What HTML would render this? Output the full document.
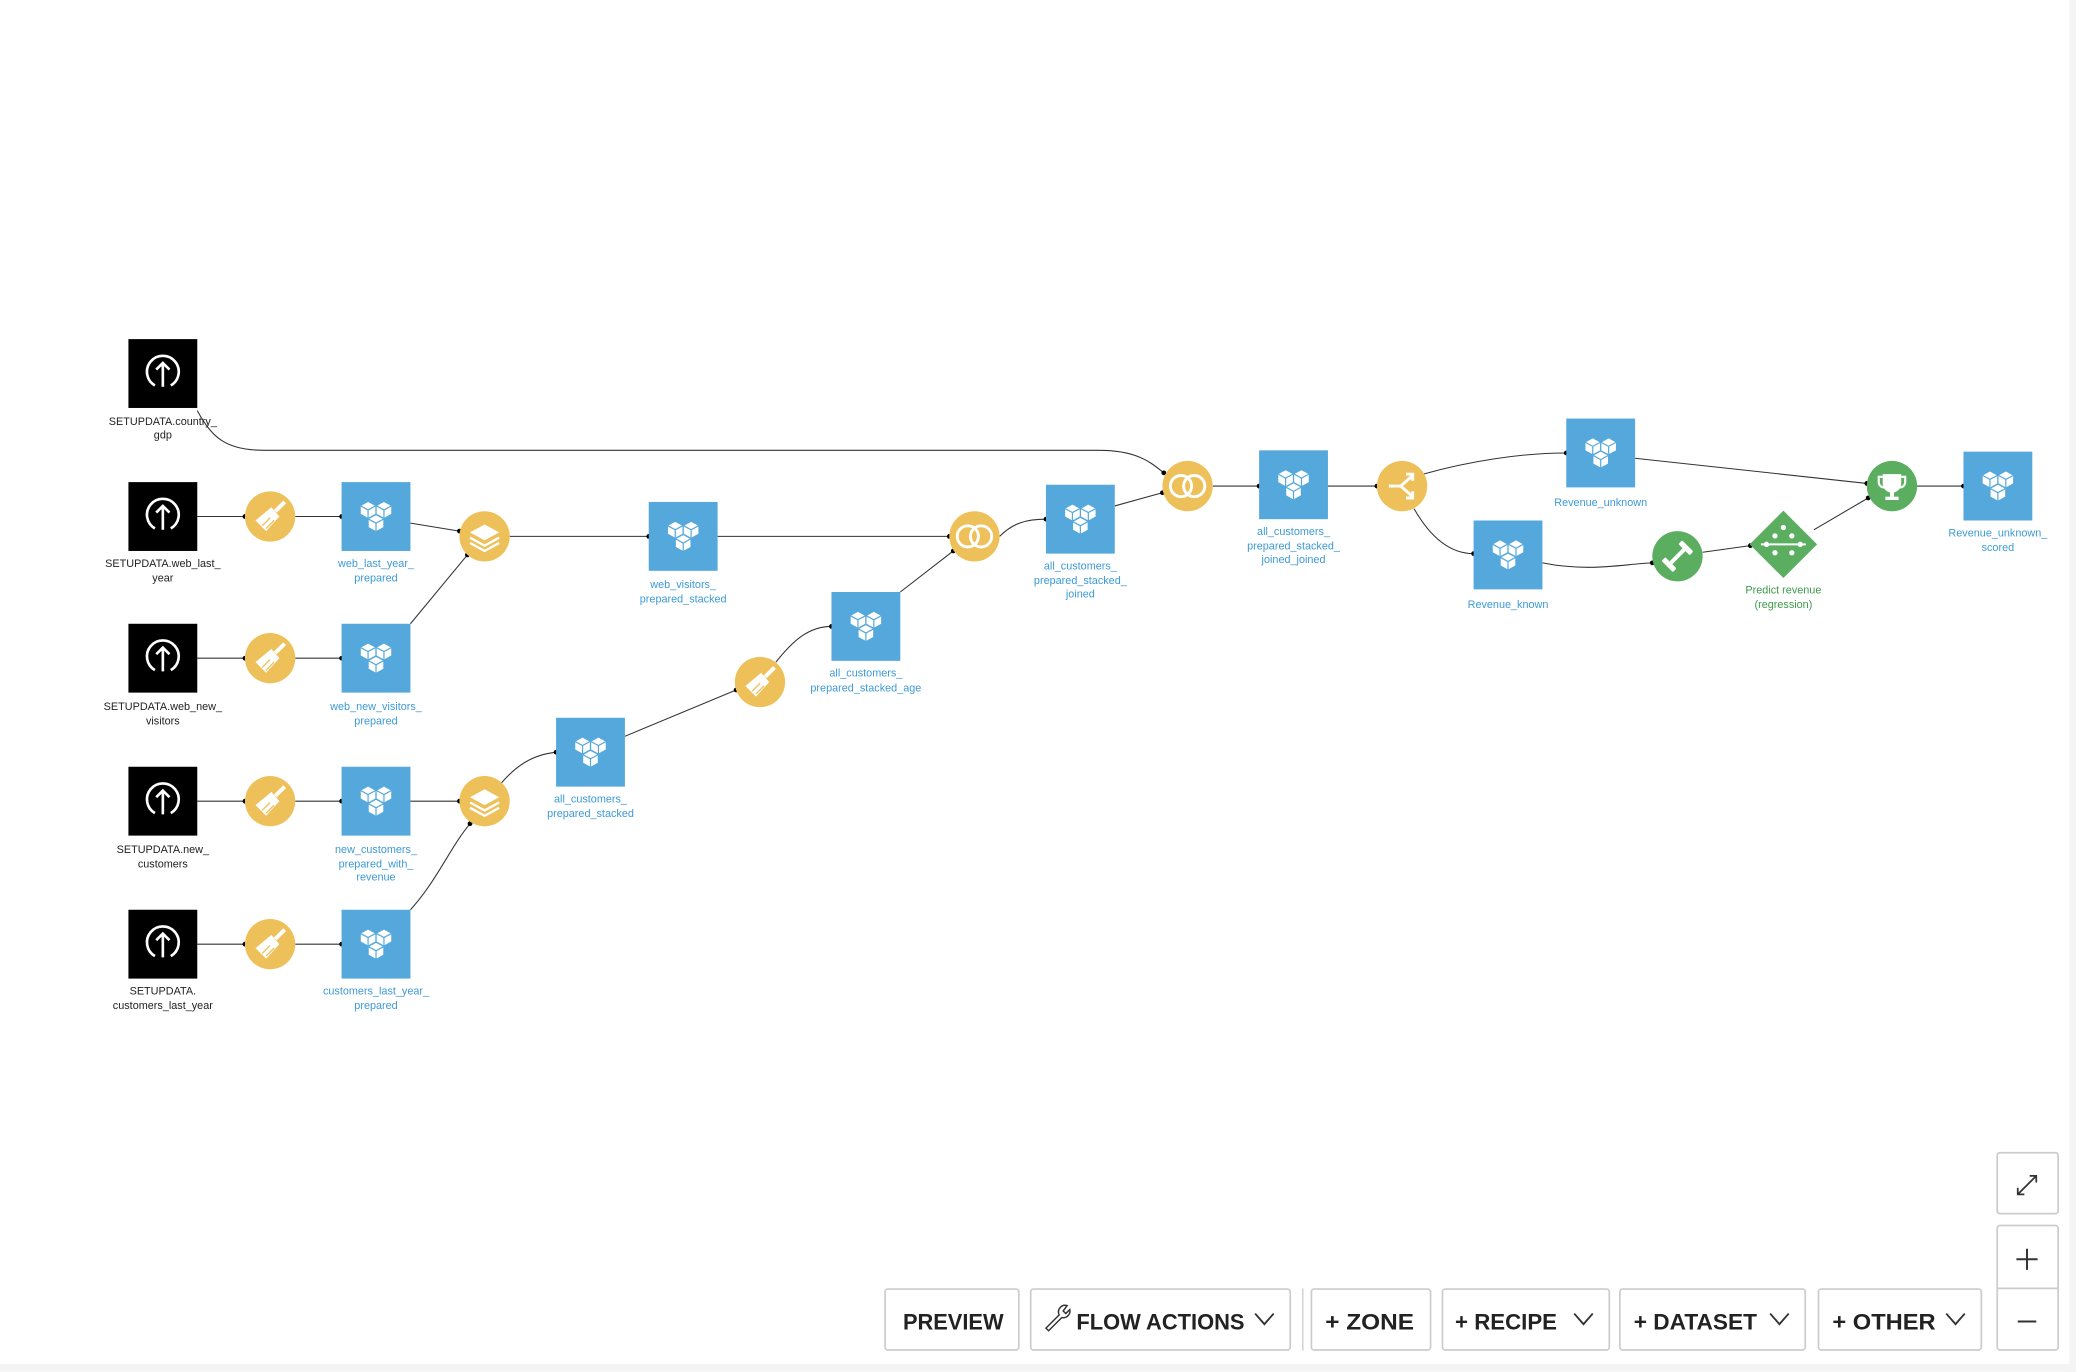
<!DOCTYPE html>
<html><head><meta charset="utf-8"><style>
html,body{margin:0;padding:0;background:#fff;width:2076px;height:1372px;overflow:hidden}
svg{display:block}
.lb{font-family:"Liberation Sans",sans-serif;font-size:8.2px;text-anchor:middle}
.k{fill:#222}.b{fill:#3d9ad6}.g{fill:#3e9a4a}
.e{fill:none;stroke:#333;stroke-width:0.8}
.bt{font-family:"Liberation Sans Narrow","Liberation Sans",sans-serif;font-weight:bold;font-size:17px;fill:#222}
.btn{fill:#fff;stroke:#ccc;stroke-width:1.3}
</style></head><body>
<svg width="2076" height="1372" viewBox="0 0 1568 1036" xmlns="http://www.w3.org/2000/svg">
<defs>
<g id="src"><rect x="-26" y="-26" width="52" height="52" fill="#000"/>
<path d="M-6,9 A12,12 0 1 1 6,9" fill="none" stroke="#fff" stroke-width="2"/>
<path d="M0,10 V-8 M-5,-3 L0,-8 L5,-3" fill="none" stroke="#fff" stroke-width="2"/></g>
<g id="cb"><polygon points="0,-6 5.5,-3 5.5,3 0,6 -5.5,3 -5.5,-3" fill="#fff"/>
<path d="M-5.5,-3 L0,0 L5.5,-3 M0,0 V6" stroke="#55a8dc" stroke-width="0.9" fill="none"/></g>
<g id="ds"><rect x="-26" y="-26" width="52" height="52" fill="#55a8dc"/>
<use href="#cb" x="-6" y="-5"/><use href="#cb" x="6" y="-5"/><use href="#cb" x="0" y="5"/></g>
<g id="br"><circle r="19" fill="#eec05a"/>
<path d="M4,-4 L11,-11" stroke="#fff" stroke-width="3"/>
<path d="M-11,3 L1,-7 L7,0 L-3,11 Z" fill="#fff"/>
<path d="M-6,7 L0,1 M-3,9 L3,3" stroke="#eec05a" stroke-width="1"/></g>
<g id="st"><circle r="19" fill="#eec05a"/>
<path d="M-11,-3 L0,-9 L11,-3 L0,3 Z" fill="#fff"/>
<path d="M-11,1 L0,7 L11,1 M-11,5 L0,11 L11,5" fill="none" stroke="#fff" stroke-width="1.8"/></g>
<g id="jn"><circle r="19" fill="#eec05a"/>
<circle cx="-5" r="8" fill="none" stroke="#fff" stroke-width="2.2"/><circle cx="5" r="8" fill="none" stroke="#fff" stroke-width="2.2"/></g>
<g id="dot"><circle r="1.8" fill="#000"/></g>
</defs>

<path class="e" d="M149,310 C160,330 170,340 200,340 L830,340 C860,340 870,350 879,357"/>
<g class="e">
<path d="M149,390H185M223,390H258M149,497H185M223,497H258M149,605H185M223,605H258M149,713H185M223,713H258"/>
<path d="M310,395 L347,401"/><path d="M310,471 L353,419"/>
<path d="M385,405 H490"/><path d="M542,405 H717"/>
<path d="M310,605 H347"/><path d="M310,687 C330,665 340,640 355,622"/>
<path d="M378,592 C390,578 402,570 420,568"/>
<path d="M472,556 L556,521"/>
<path d="M586,500 C598,485 610,473 628,473"/>
<path d="M680,447 L720,416"/>
<path d="M755,405 C765,395 775,392 790,392"/>
<path d="M842,382 L878,372"/>
<path d="M916,367 H951"/><path d="M1003,367 H1040"/>
<path d="M1075,358 C1110,348 1150,342 1183,342"/>
<path d="M1068,384 C1080,405 1095,418 1113,418"/>
<path d="M1165,425 C1200,432 1225,426 1248,425"/>
<path d="M1286,417 L1322,412"/>
<path d="M1370,400 L1411,376"/>
<path d="M1235,346 L1410,365"/>
<path d="M1448,367 H1483"/>
</g>
<g>
<use href="#dot" x="879" y="357"/>
<use href="#dot" x="185" y="390"/><use href="#dot" x="258" y="390"/>
<use href="#dot" x="185" y="497"/><use href="#dot" x="258" y="497"/>
<use href="#dot" x="185" y="605"/><use href="#dot" x="258" y="605"/>
<use href="#dot" x="185" y="713"/><use href="#dot" x="258" y="713"/>
<use href="#dot" x="347" y="401"/><use href="#dot" x="353" y="419"/>
<use href="#dot" x="490" y="405"/><use href="#dot" x="717" y="405"/>
<use href="#dot" x="347" y="605"/><use href="#dot" x="355" y="622"/>
<use href="#dot" x="420" y="568"/><use href="#dot" x="556" y="521"/>
<use href="#dot" x="628" y="473"/><use href="#dot" x="720" y="416"/>
<use href="#dot" x="790" y="392"/><use href="#dot" x="878" y="372"/>
<use href="#dot" x="951" y="367"/><use href="#dot" x="1040" y="367"/>
<use href="#dot" x="1183" y="342"/><use href="#dot" x="1113" y="418"/>
<use href="#dot" x="1248" y="425"/><use href="#dot" x="1322" y="412"/>
<use href="#dot" x="1411" y="376"/><use href="#dot" x="1410" y="365"/>
<use href="#dot" x="1483" y="367"/>
</g>

<use href="#src" x="123" y="282"/><use href="#src" x="123" y="390"/><use href="#src" x="123" y="497"/><use href="#src" x="123" y="605"/><use href="#src" x="123" y="713"/>
<text class="lb k" x="123" y="321">SETUPDATA.country_</text><text class="lb k" x="123" y="331">gdp</text>
<text class="lb k" x="123" y="428">SETUPDATA.web_last_</text><text class="lb k" x="123" y="439">year</text>
<text class="lb k" x="123" y="536">SETUPDATA.web_new_</text><text class="lb k" x="123" y="547">visitors</text>
<text class="lb k" x="123" y="644">SETUPDATA.new_</text><text class="lb k" x="123" y="655">customers</text>
<text class="lb k" x="123" y="751">SETUPDATA.</text><text class="lb k" x="123" y="762">customers_last_year</text>

<use href="#br" x="204" y="390"/><use href="#br" x="204" y="497"/><use href="#br" x="204" y="605"/><use href="#br" x="204" y="713"/>

<use href="#ds" x="284" y="390"/><use href="#ds" x="284" y="497"/><use href="#ds" x="284" y="605"/><use href="#ds" x="284" y="713"/>
<text class="lb b" x="284" y="428">web_last_year_</text><text class="lb b" x="284" y="439">prepared</text>
<text class="lb b" x="284" y="536">web_new_visitors_</text><text class="lb b" x="284" y="547">prepared</text>
<text class="lb b" x="284" y="644">new_customers_</text><text class="lb b" x="284" y="655">prepared_with_</text><text class="lb b" x="284" y="665">revenue</text>
<text class="lb b" x="284" y="751">customers_last_year_</text><text class="lb b" x="284" y="762">prepared</text>

<use href="#st" x="366" y="405"/><use href="#st" x="366" y="605"/>

<use href="#ds" x="516" y="405"/>
<text class="lb b" x="516" y="444">web_visitors_</text><text class="lb b" x="516" y="455">prepared_stacked</text>
<use href="#ds" x="446" y="568"/>
<text class="lb b" x="446" y="606">all_customers_</text><text class="lb b" x="446" y="617">prepared_stacked</text>
<use href="#br" x="574" y="515"/>
<use href="#ds" x="654" y="473"/>
<text class="lb b" x="654" y="511">all_customers_</text><text class="lb b" x="654" y="522">prepared_stacked_age</text>
<use href="#jn" x="736" y="405"/>
<use href="#ds" x="816" y="392"/>
<text class="lb b" x="816" y="430">all_customers_</text><text class="lb b" x="816" y="441">prepared_stacked_</text><text class="lb b" x="816" y="451">joined</text>
<use href="#jn" x="897" y="367"/>
<use href="#ds" x="977" y="366"/>
<text class="lb b" x="977" y="404">all_customers_</text><text class="lb b" x="977" y="415">prepared_stacked_</text><text class="lb b" x="977" y="425">joined_joined</text>

<g transform="translate(1059,367)"><circle r="19" fill="#eec05a"/>
<path d="M-10,0 H-1 L8,-8 M-1,0 L8,8 M3,-9 H8 V-4 M3,9 H8 V4" fill="none" stroke="#fff" stroke-width="2.2"/></g>

<use href="#ds" x="1209" y="342"/>
<text class="lb b" x="1209" y="382">Revenue_unknown</text>
<use href="#ds" x="1139" y="419"/>
<text class="lb b" x="1139" y="459">Revenue_known</text>

<g transform="translate(1267,420)"><circle r="19" fill="#5bae5f"/>
<g transform="rotate(-45)" fill="#fff"><rect x="-7" y="-1.5" width="14" height="3"/><rect x="-11" y="-6" width="4" height="12" rx="1"/><rect x="7" y="-6" width="4" height="12" rx="1"/></g></g>

<g transform="translate(1347,411) rotate(45)"><rect x="-18" y="-18" width="36" height="36" fill="#5bae5f"/>
<g fill="#fff"><circle cx="-9" cy="-9" r="2"/><circle cx="0" cy="-9" r="2"/><circle cx="9" cy="-9" r="2"/><circle cx="-9" cy="0" r="2"/><circle cx="9" cy="0" r="2"/><circle cx="0" cy="9" r="2"/><circle cx="-9" cy="9" r="2"/></g>
<path d="M-12,12 L12,-12" stroke="#fff" stroke-width="1.5"/></g>
<text class="lb g" x="1347" y="448">Predict revenue</text><text class="lb g" x="1347" y="459">(regression)</text>

<g transform="translate(1429,367)"><circle r="19" fill="#5bae5f"/>
<path d="M-7,-9 H7 V-2 A7,7 0 0 1 -7,-2 Z" fill="#fff"/>
<path d="M-7,-7 H-10 V-3 A4,4 0 0 0 -6,1 M7,-7 H10 V-3 A4,4 0 0 1 6,1" fill="none" stroke="#fff" stroke-width="1.6"/>
<rect x="-1.5" y="4" width="3" height="4" fill="#fff"/><rect x="-5" y="8" width="10" height="2.5" fill="#fff"/></g>

<use href="#ds" x="1509" y="367"/>
<text class="lb b" x="1509" y="405">Revenue_unknown_</text><text class="lb b" x="1509" y="416">scored</text>

<rect class="btn" x="668.5" y="973.5" width="101" height="46" rx="2"/>
<text class="bt" x="682" y="1004" textLength="76" lengthAdjust="spacingAndGlyphs">PREVIEW</text>
<rect class="btn" x="778.5" y="973.5" width="196" height="46" rx="2"/>
<path d="M790,1003 L800,993 A5,5 0 0 1 806,986 L803,990 L805,992 L808,989 A5,5 0 0 1 802,995 L792,1005 Z" fill="none" stroke="#333" stroke-width="1.1"/>
<text class="bt" x="813" y="1004" textLength="127" lengthAdjust="spacingAndGlyphs">FLOW ACTIONS</text>
<path d="M948,992 L955,1000 L962,992" fill="none" stroke="#333" stroke-width="1.4"/>
<line x1="984" y1="973" x2="984" y2="1020" stroke="#ccc" stroke-width="1"/>
<rect class="btn" x="990.5" y="973.5" width="90" height="46" rx="2"/>
<text class="bt" x="1001" y="1004" textLength="67" lengthAdjust="spacingAndGlyphs">+ ZONE</text>
<rect class="btn" x="1089.5" y="973.5" width="126" height="46" rx="2"/>
<text class="bt" x="1099" y="1004" textLength="77" lengthAdjust="spacingAndGlyphs">+ RECIPE</text>
<path d="M1189,992 L1196,1000 L1203,992" fill="none" stroke="#333" stroke-width="1.4"/>
<rect class="btn" x="1223.5" y="973.5" width="140" height="46" rx="2"/>
<text class="bt" x="1234" y="1004" textLength="93" lengthAdjust="spacingAndGlyphs">+ DATASET</text>
<path d="M1337,992 L1344,1000 L1351,992" fill="none" stroke="#333" stroke-width="1.4"/>
<rect class="btn" x="1373.5" y="973.5" width="123" height="46" rx="2"/>
<text class="bt" x="1384" y="1004" textLength="78" lengthAdjust="spacingAndGlyphs">+ OTHER</text>
<path d="M1470,992 L1477,1000 L1484,992" fill="none" stroke="#333" stroke-width="1.4"/>

<rect class="btn" x="1508.5" y="870.5" width="46" height="46" rx="2"/>
<path d="M1524,902 L1538,888 M1533,888 H1538 V893 M1524,897 V902 H1529" fill="none" stroke="#333" stroke-width="1.3"/>
<rect class="btn" x="1508.5" y="925.5" width="46" height="94" rx="2"/>
<line x1="1508" y1="973" x2="1555" y2="973" stroke="#ccc" stroke-width="1.3"/>
<path d="M1531,943 V959 M1523,951 H1539 M1524,998 H1538" stroke="#333" stroke-width="1.5"/>
<rect x="0" y="1030" width="1568" height="6" fill="#f4f4f4"/>
<rect x="1563" y="0" width="5" height="1036" fill="#f4f4f4"/>
</svg>
</body></html>
